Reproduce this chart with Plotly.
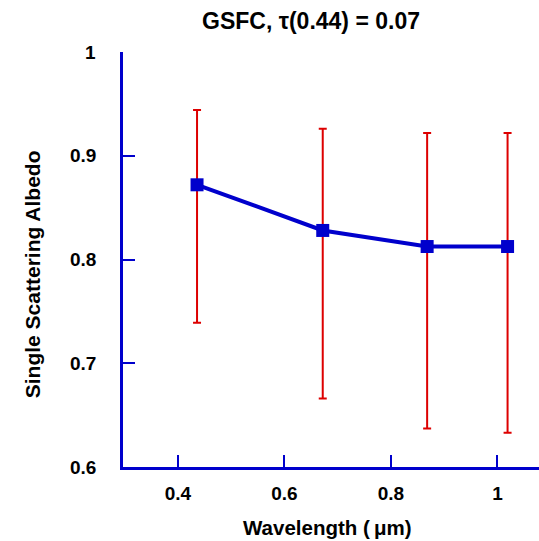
import plotly.graph_objects as go

wavelength = [0.436, 0.672, 0.868, 1.019]
albedo = [0.872, 0.828, 0.8125, 0.8125]
err_upper = [0.944, 0.926, 0.922, 0.922]
err_lower = [0.739, 0.666, 0.637, 0.633]

title_text = "GSFC, τ(0.44) = 0.07"
x_title = "Wavelength (\u2009μm)"
y_title = "Single Scattering Albedo"
x_ticks = [0.4, 0.6, 0.8, 1.0]
x_tick_labels = ["0.4", "0.6", "0.8", "1"]
y_ticks = [0.6, 0.7, 0.8, 0.9, 1.0]
y_tick_labels = ["0.6", "0.7", "0.8", "0.9", "1"]

plus = [u - a for u, a in zip(err_upper, albedo)]
minus = [a - l for a, l in zip(albedo, err_lower)]

BLUE = "#0000CC"
RED = "#DD0000"
FONT = "Liberation Sans, Arial, sans-serif"

fig = go.Figure()
fig.add_trace(go.Scatter(
    x=wavelength, y=albedo, mode="lines+markers",
    line=dict(color=BLUE, width=4),
    marker=dict(symbol="square", size=13, color=BLUE),
    error_y=dict(type="data", symmetric=False, array=plus, arrayminus=minus,
                 color=RED, thickness=2, width=4),
    showlegend=False,
))

W, H = 539, 541
L, T, B = 123, 51.5, 74
fig.update_layout(
    width=W, height=H,
    margin=dict(l=L, r=0, t=T, b=B),
    paper_bgcolor="white", plot_bgcolor="white",
    font=dict(family=FONT, color="black"),
    title=dict(text="<b>" + title_text + "</b>", x=311 / W, xanchor="center",
               y=1 - 21 / H, yanchor="middle", font=dict(size=23)),
    xaxis=dict(range=[0.297, 1.078], tickvals=x_ticks,
               ticktext=["<b>" + t + "</b>" for t in x_tick_labels],
               ticks="inside", ticklen=12, tickwidth=2, tickcolor=BLUE,
               showline=True, linecolor=BLUE, linewidth=2.5,
               showgrid=False, zeroline=False,
               tickfont=dict(size=19, family=FONT), ticklabelstandoff=7),
    yaxis=dict(range=[0.6, 1.0], tickvals=y_ticks, showticklabels=False,
               ticks="inside", ticklen=12, tickwidth=2, tickcolor=BLUE,
               showline=True, linecolor=BLUE, linewidth=2.5,
               showgrid=False, zeroline=False),
)
for v, t in zip(y_ticks, y_tick_labels):
    fig.add_annotation(text="<b>" + t + "</b>", xref="paper", yref="y",
                       x=0, y=v, xanchor="right", yanchor="middle", xshift=-25,
                       showarrow=False, font=dict(size=19, family=FONT))
ph = H - T - B
pw = W - L
fig.add_annotation(text="<b>" + x_title + "</b>", xref="paper", yref="paper",
                   x=(327 - L) / pw, y=-(528 - (H - B)) / ph, showarrow=False,
                   xanchor="center", yanchor="middle", font=dict(size=20.5))
fig.add_annotation(text="<b>" + y_title + "</b>", xref="paper", yref="paper",
                   x=-(L - 32) / pw, y=(H - B - 274) / ph, showarrow=False,
                   textangle=-90, xanchor="center", yanchor="middle", font=dict(size=21))

fig.write_html("out.html")
